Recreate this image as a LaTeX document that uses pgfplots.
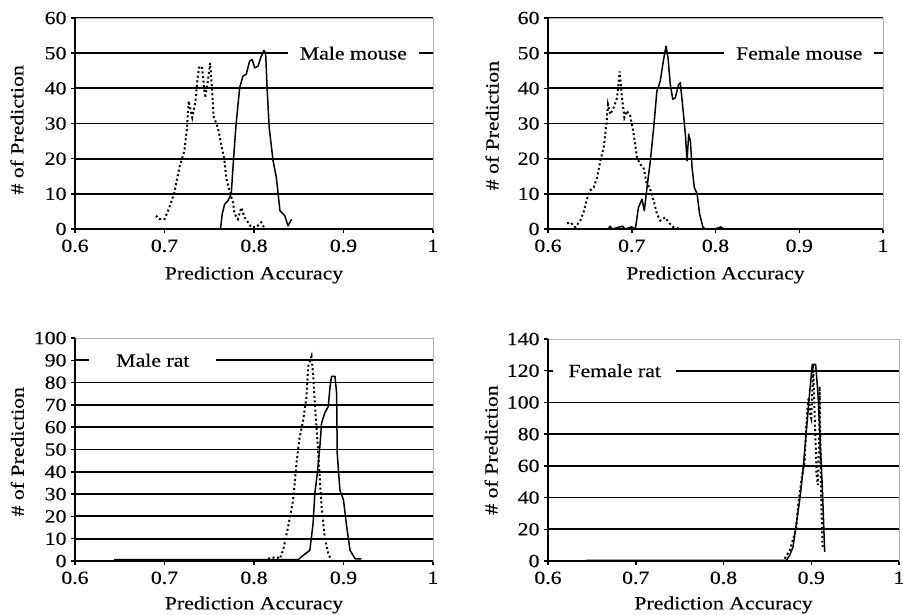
\documentclass[border=0pt]{standalone}
\usepackage{fontspec}
\setmainfont[FakeStretch=1.17, FakeBold=0.3]{Liberation Serif}
\usepackage{pgfplots}
\pgfplotsset{compat=1.18}
\newcommand\f{\fontsize{18.6bp}{21bp}\selectfont}
\tikzset{lbl/.style={fill=white, inner ysep=1bp, font=\f}}
\pgfplotsset{
  panel/.style={
    scale only axis, anchor=south west, clip=false,
    xmin=0.6, xmax=1, xtick={0.6,0.7,0.8,0.9,1}, xticklabels={0.6,0.7,0.8,0.9,1},
    tick align=outside, tick pos=left, major tick length=4bp,
    tick style={black, line width=1.5bp},
    ymajorgrids, major grid style={black, line width=1.8bp},
    axis line style={gray!60, line width=0.6bp},
    tick label style={font=\f},
    xticklabel style={yshift=-3bp},
    yticklabel style={xshift=-1bp},
    label style={font=\f},
    /pgf/number format/assume math mode=true,
    xlabel={Prediction Accuracy}, ylabel={\# of Prediction},
  },
  solidc/.style={black, line width=1.5bp, line join=round},
  dotc/.style={black, line width=2bp, dash pattern=on 2bp off 2.6bp},
}
\begin{document}
\begin{tikzpicture}
\useasboundingbox (0,0) rectangle (903bp,615bp);
% Panel 1: Male mouse
\begin{axis}[panel, at={(75bp,386bp)}, width=358bp, height=211bp,
  ymin=0, ymax=60, ytick={0,10,...,60},
  xlabel style={at={(axis description cs:0.5,-0.218)}, anchor=center},
  ylabel style={at={(axis description cs:-0.162,0.47)}, anchor=center}]
\addplot[solidc] coordinates {(0.7626,0) (0.7645,4.3) (0.7671,7) (0.7708,8) (0.7746,10) (0.777,19.4) (0.780,29.8) (0.784,40.2) (0.7877,43.5) (0.7914,44) (0.795,47.7) (0.798,48.2) (0.8008,45.8) (0.8045,46.3) (0.8075,48.7) (0.811,50.8) (0.813,50) (0.8146,40.2) (0.817,28.8) (0.8213,19.4) (0.825,14.6) (0.827,9.9) (0.829,5.2) (0.8344,3.8) (0.838,0.9) (0.842,2.8)};
\addplot[dotc] coordinates {(0.6905,3.8) (0.694,2.8) (0.70,2.8) (0.7054,6.1) (0.711,10.4) (0.7166,17.5) (0.7222,22.2) (0.7252,28.8) (0.727,36.4) (0.731,31.7) (0.7346,36.4) (0.737,43) (0.739,46.3) (0.742,45.8) (0.7454,37.3) (0.7484,42) (0.751,47.2) (0.7533,39.2) (0.7548,32.1) (0.7596,28.8) (0.7634,24.1) (0.767,19.4) (0.769,14.6) (0.7735,9.9) (0.7765,7.6) (0.7783,4.3) (0.782,2.8) (0.7858,6.1) (0.7895,3.3) (0.797,0.5) (0.8026,0.5) (0.808,1.9) (0.811,0.5)};
\node[lbl, inner xsep=12bp] at (axis cs:0.911,50) {Male mouse};
\draw[black, line width=2bp] (rel axis cs:0,1) -- (rel axis cs:0,0) -- (rel axis cs:1,0);
\end{axis}
% Panel 2: Female mouse
\begin{axis}[panel, at={(548bp,386bp)}, width=335bp, height=211bp,
  ymin=0, ymax=60, ytick={0,10,...,60},
  xlabel style={at={(axis description cs:0.5,-0.218)}, anchor=center},
  ylabel style={at={(axis description cs:-0.167,0.49)}, anchor=center}]
\addplot[solidc] coordinates {(0.672,0) (0.674,0.8) (0.677,0) (0.689,0.8) (0.692,0) (0.70,0.6) (0.7043,0) (0.708,6.1) (0.7122,8.5) (0.715,5.2) (0.7182,11.8) (0.7222,19.4) (0.7262,28.8) (0.730,39.2) (0.734,42) (0.738,48.2) (0.7409,52) (0.7433,48.7) (0.746,41.1) (0.749,36.9) (0.752,37.3) (0.756,41.1) (0.758,41.6) (0.761,34.5) (0.764,27) (0.766,19.4) (0.768,27) (0.770,25.1) (0.772,17.5) (0.7747,11.8) (0.778,10) (0.781,4.3) (0.785,0.5) (0.788,0) (0.80,0) (0.806,0.6) (0.81,0)};
\addplot[dotc] coordinates {(0.6227,1.6) (0.6267,1.9) (0.6326,0.5) (0.6386,2.4) (0.643,5.2) (0.6458,8) (0.6498,10.9) (0.6545,11.8) (0.6585,14.6) (0.6625,19.4) (0.6665,23.2) (0.6697,29.8) (0.6716,35.4) (0.6744,32.6) (0.6784,34.5) (0.6824,37.3) (0.6856,44.8) (0.6884,37.3) (0.6912,31.7) (0.694,33.6) (0.6983,32.1) (0.7023,27) (0.7063,20.3) (0.710,18.4) (0.714,17.5) (0.718,12.8) (0.7214,11.8) (0.7262,8) (0.730,4.3) (0.734,2.4) (0.740,3.3) (0.744,1.9) (0.750,0.5) (0.758,0)};
\node[lbl, inner xsep=12bp] at (axis cs:0.9,50) {Female mouse};
\draw[black, line width=2bp] (rel axis cs:0,1) -- (rel axis cs:0,0) -- (rel axis cs:1,0);
\end{axis}
% Panel 3: Male rat
\begin{axis}[panel, at={(75bp,54bp)}, width=358bp, height=223bp,
  ymin=0, ymax=100, ytick={0,10,...,100},
  xlabel style={at={(axis description cs:0.5,-0.197)}, anchor=center},
  ylabel style={at={(axis description cs:-0.161,0.49)}, anchor=center}]
\addplot[solidc] coordinates {(0.6437,0.6) (0.8493,0.6) (0.855,2.5) (0.8624,4.8) (0.866,16.8) (0.868,30.3) (0.8707,39.3) (0.8736,51.3) (0.8755,61.8) (0.879,66.3) (0.883,69.3) (0.885,78.3) (0.8867,82.8) (0.8905,82.8) (0.8923,75.3) (0.893,48.3) (0.896,31.8) (0.900,27.3) (0.9036,15.3) (0.9073,4.8) (0.913,1) (0.920,1)};
\addplot[dotc] coordinates {(0.8157,1) (0.825,1.8) (0.8288,1) (0.8325,4.8) (0.8381,15.3) (0.8437,27.3) (0.8475,43.8) (0.8505,54.3) (0.855,63.3) (0.8587,73.8) (0.8606,87.3) (0.8643,91.8) (0.8662,82.8) (0.868,70.8) (0.870,58.8) (0.8718,48.3) (0.8736,36.3) (0.8755,24.3) (0.879,10.8) (0.883,3.3) (0.8867,0.3)};
\node[lbl, inner xsep=27bp] at (axis cs:0.687,90) {Male rat};
\draw[white, line width=2.2bp] (rel axis cs:0,1) -- (rel axis cs:1,1);
\draw[gray!60, line width=0.6bp] (rel axis cs:0,1) -- (rel axis cs:1,1);
\draw[black, line width=2bp] (rel axis cs:0,1) -- (rel axis cs:0,0) -- (rel axis cs:1,0);
\end{axis}
% Panel 4: Female rat
\begin{axis}[panel, at={(548bp,54bp)}, width=351bp, height=222bp,
  ymin=0, ymax=140, ytick={0,20,...,140},
  xlabel style={at={(axis description cs:0.5,-0.198)}, anchor=center},
  ylabel style={at={(axis description cs:-0.162,0.5)}, anchor=center}]
\addplot[solidc] coordinates {(0.6437,0.4) (0.8716,0.4) (0.8754,3.6) (0.8792,8.8) (0.883,23.5) (0.8868,38.2) (0.8906,57) (0.8944,82) (0.898,105) (0.9012,124) (0.905,124) (0.9077,105) (0.910,78) (0.9126,46.6) (0.914,25.6) (0.9153,5.7)};
\addplot[dotc] coordinates {(0.8697,1.5) (0.8754,6.7) (0.879,13) (0.883,21.4) (0.8849,34) (0.8868,42.4) (0.889,52) (0.8925,63) (0.894,82) (0.8955,95) (0.897,103) (0.899,92) (0.9,90) (0.9015,110) (0.902,124) (0.9035,100) (0.9045,80) (0.9055,67) (0.906,55) (0.9075,48) (0.909,75) (0.9095,110) (0.910,88) (0.9115,36) (0.9122,22) (0.913,8)};
\node[lbl, inner xsep=15bp] at (axis cs:0.676,120) {Female rat};
\draw[white, line width=2.2bp] (rel axis cs:0,1) -- (rel axis cs:1,1);
\draw[gray!60, line width=0.6bp] (rel axis cs:0,1) -- (rel axis cs:1,1);
\draw[black, line width=2bp] (rel axis cs:0,1) -- (rel axis cs:0,0) -- (rel axis cs:1,0);
\end{axis}
\end{tikzpicture}
\end{document}
